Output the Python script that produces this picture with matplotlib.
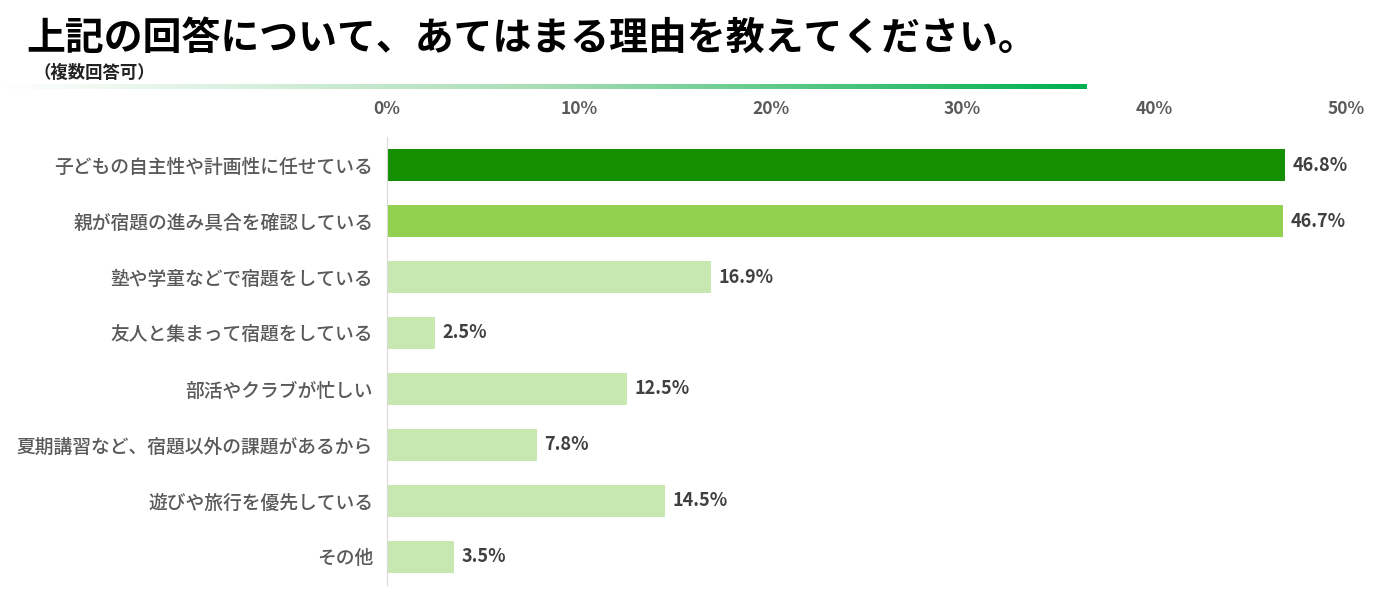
import numpy as np
import matplotlib.pyplot as plt
from matplotlib.colors import LinearSegmentedColormap

plt.rcParams['font.family'] = ['Noto Sans CJK JP', 'DejaVu Sans']

labels = ['子どもの自主性や計画性に任せている', '親が宿題の進み具合を確認している',
          '塾や学童などで宿題をしている', '友人と集まって宿題をしている',
          '部活やクラブが忙しい', '夏期講習など、宿題以外の課題があるから',
          '遊びや旅行を優先している', 'その他']
values = [46.8, 46.7, 16.9, 2.5, 12.5, 7.8, 14.5, 3.5]
colors = ['#138F00', '#92D050'] + ['#C8E8B2'] * 6
ticks = [0, 10, 20, 30, 40, 50]

fig = plt.figure(figsize=(13.78, 5.97), dpi=100)

# title and subtitle
fig.text(0.019, 0.935, '上記の回答について、あてはまる理由を教えてください。',
         fontsize=28, fontweight='bold', color='black', va='center')
fig.text(0.024, 0.878, '（複数回答可）', fontsize=12.5, fontweight='bold',
         color='#222222', va='center')

# gradient rule under the title
gax = fig.add_axes([0, 1 - 89 / 597, 1087 / 1378, 5 / 597])
grad = np.linspace(0, 1, 256).reshape(1, -1)
cmap = LinearSegmentedColormap.from_list('g', ['#FFFFFF', '#A8DDB5', '#00B050'])
gax.imshow(grad, aspect='auto', cmap=cmap)
gax.axis('off')

ax = fig.add_axes([387 / 1378, 1 - 585 / 597, 959 / 1378, 448 / 597])
y = np.arange(len(labels))
ax.barh(y, values, height=0.57, color=colors)
for yi, v in zip(y, values):
    ax.text(v + 0.4, yi, f'{v}%', va='center', ha='left', fontsize=13,
            fontweight='bold', color='#404040')

ax.set_xlim(0, 50)
ax.set_ylim(len(labels) - 0.5, -0.5)
ax.set_yticks(y)
ax.set_yticklabels(labels, fontsize=13.5, color='#595959', fontweight='medium')
ax.set_xticks(ticks)
ax.set_xticklabels([f'{t}%' for t in ticks], fontsize=12.5, color='#595959',
                   fontweight='bold')
ax.xaxis.tick_top()
ax.tick_params(axis='both', length=0)
ax.tick_params(axis='x', pad=14)
ax.tick_params(axis='y', pad=10)
for s in ['top', 'right', 'bottom']:
    ax.spines[s].set_visible(False)
ax.spines['left'].set_color('#D9D9D9')

fig.savefig('out.png', dpi=100)
